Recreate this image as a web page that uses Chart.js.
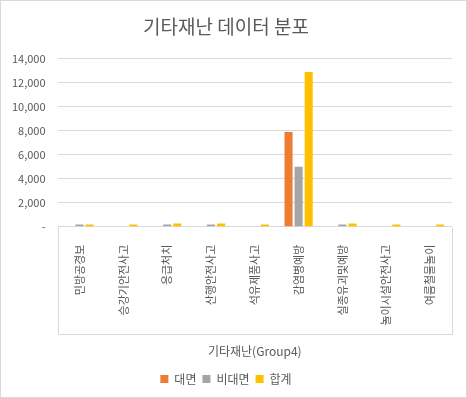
<!DOCTYPE html>
<html>
<head>
<meta charset="utf-8">
<script src="https://cdn.jsdelivr.net/npm/chart.js@4/dist/chart.umd.min.js"></script>
<style>
html, body { margin: 0; padding: 0; background: #fff; }
#wrap { width: 467px; height: 398px; }
</style>
</head>
<body>
<div id="wrap"><canvas id="myChart"></canvas></div>
<script>
var labels = ['민방공경보', '승강기안전사고', '응급처치', '산행안전사고', '석유제품사고', '감염병예방', '실종유괴및예방', '놀이시설안전사고', '여름철물놀이'];
var faceData = [0, 0, 0, 0, 0, 7900, 0, 0, 0];
var onlineData = [170, 0, 170, 170, 0, 5000, 170, 0, 0];
var totalData = [180, 170, 260, 260, 170, 12900, 260, 170, 170];
var yTicks = [0, 2000, 4000, 6000, 8000, 10000, 12000, 14000];

var FONT = '"Noto Sans CJK KR", "Noto Sans", sans-serif';
var TEXT = '#595959';

// outer frame + the box under the category axis
var framePlugin = {
    id: 'frame',
    afterDraw: function (chart) {
        var ctx = chart.ctx;
        var area = chart.chartArea;
        ctx.save();
        ctx.strokeStyle = '#d9d9d9';
        ctx.lineWidth = 1;
        ctx.strokeRect(0.5, 0.5, chart.width - 1, chart.height - 1);
        var x = chart.scales.x;
        var boxBottom = x.bottom - 33;
        ctx.beginPath();
        ctx.moveTo(Math.round(area.left) + 0.5, Math.round(area.bottom) + 0.5);
        ctx.lineTo(Math.round(area.left) + 0.5, Math.round(boxBottom) + 0.5);
        ctx.lineTo(Math.round(area.right) + 0.5, Math.round(boxBottom) + 0.5);
        ctx.lineTo(Math.round(area.right) + 0.5, Math.round(area.bottom) + 0.5);
        ctx.stroke();
        ctx.restore();
    }
};

function renderChart() {
    var ctx = document.getElementById('myChart').getContext('2d');
    var myChart = new Chart(ctx, {
        type: 'bar',
        data: {
            labels: labels,
            datasets: [
                { label: '대면', data: faceData, backgroundColor: '#ED7D31' },
                { label: '비대면', data: onlineData, backgroundColor: '#A5A5A5' },
                { label: '합계', data: totalData, backgroundColor: '#FFC000' }
            ]
        },
        options: {
            responsive: true,
            maintainAspectRatio: false,
            animation: false,
            datasets: { bar: { barPercentage: 0.8, categoryPercentage: 0.69 } },
            layout: { padding: { left: 0, right: 15, top: 0, bottom: 3 } },
            plugins: {
                title: {
                    display: true,
                    text: '기타재난 데이터 분포',
                    color: TEXT,
                    font: { family: FONT, size: 19, weight: 'normal' },
                    padding: { top: 15, bottom: 21 }
                },
                legend: {
                    position: 'bottom',
                    labels: {
                        color: TEXT,
                        font: { family: FONT, size: 12 },
                        boxWidth: 8,
                        boxHeight: 8,
                        padding: 6
                    }
                },
                tooltip: { enabled: false }
            },
            scales: {
                x: {
                    grid: { display: false },
                    border: { display: false },
                    ticks: {
                        color: TEXT,
                        font: { family: FONT, size: 11 },
                        minRotation: 90,
                        maxRotation: 90,
                        autoSkip: false,
                        padding: 10
                    },
                    title: {
                        display: true,
                        text: '기타재난(Group4)',
                        color: TEXT,
                        font: { family: FONT, size: 12 },
                        padding: { top: 9, bottom: 8 }
                    }
                },
                y: {
                    min: 0,
                    max: 14000,
                    afterBuildTicks: function (axis) {
                        axis.ticks = yTicks.map(function (v) { return { value: v }; });
                    },
                    grid: { color: '#d9d9d9', drawTicks: false },
                    border: { display: false },
                    ticks: {
                        color: TEXT,
                        font: { family: FONT, size: 11 },
                        padding: 12,
                        callback: function (v) { return v === 0 ? '-' : v.toLocaleString('en-US'); }
                    }
                }
            }
        },
        plugins: [framePlugin]
    });
}

renderChart();
</script>
</body>
</html>
